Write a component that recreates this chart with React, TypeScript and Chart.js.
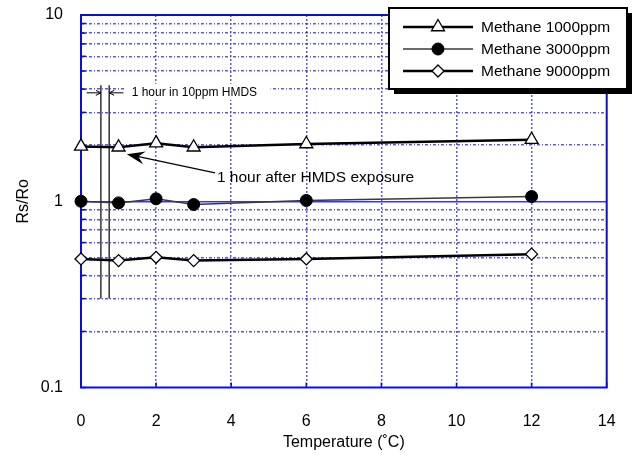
import React, { useEffect, useRef } from 'react';
import { Chart, registerables } from 'chart.js';

Chart.register(...registerables);

// ---- data ----
const TEMPERATURES = [0, 1, 2, 3, 6, 12];
const METHANE_1000 = [1.97, 1.95, 2.05, 1.95, 2.03, 2.14];
const METHANE_3000 = [1.0, 0.98, 1.03, 0.96, 1.01, 1.06];
const METHANE_9000 = [0.49, 0.48, 0.5, 0.48, 0.49, 0.52];
const SERIES_NAMES = ['Methane 1000ppm', 'Methane 3000ppm', 'Methane 9000ppm'];
const Y_TICKS = [0.1, 0.2, 0.3, 0.4, 0.5, 0.6, 0.7, 0.8, 0.9, 1, 2, 3, 4, 5, 6, 7, 8, 9, 10];
const Y_TICK_LABELS = ['0.1', '1', '10'];
const X_TICK_STEP = 2;
const X_RANGE = [0, 14];
const Y_RANGE = [0.1, 10];
const X_TITLE = 'Temperature (˚C)';
const Y_TITLE = 'Rs/Ro';
const NOTE_HMDS = '1 hour in 10ppm HMDS';
const NOTE_AFTER = '1 hour after HMDS exposure';

const FONT = "'Liberation Sans', Arial, Helvetica, sans-serif";
const FRAME = '#0c0cdc';
const GRID = 'rgba(45,45,255,0.8)';
const ONE_LINE = 'rgba(30,30,255,0.9)';

function drawMarker(ctx: CanvasRenderingContext2D, style: string, x: number, y: number, r: number, fill: string) {
  ctx.beginPath();
  if (style === 'triangle') {
    const hw = r * Math.cos(Math.PI / 6);
    ctx.moveTo(x, y - r);
    ctx.lineTo(x + hw, y + r / 2);
    ctx.lineTo(x - hw, y + r / 2);
    ctx.closePath();
  } else if (style === 'rectRot') {
    ctx.moveTo(x, y - r);
    ctx.lineTo(x + r, y);
    ctx.lineTo(x, y + r);
    ctx.lineTo(x - r, y);
    ctx.closePath();
  } else {
    ctx.arc(x, y, r, 0, Math.PI * 2);
  }
  ctx.fillStyle = fill;
  ctx.fill();
  ctx.stroke();
}

const framePlugin = {
  id: 'frameAndNotes',
  beforeDatasetsDraw(chart: any) {
    const { ctx, chartArea: a, scales } = chart;
    const xs = scales.x;
    const ys = scales.y;
    ctx.save();

    // inner tick marks
    ctx.strokeStyle = FRAME;
    ctx.lineWidth = 1.5;
    ctx.setLineDash([]);
    Y_TICKS.forEach((v) => {
      const py = ys.getPixelForValue(v);
      ctx.beginPath();
      ctx.moveTo(a.left, py);
      ctx.lineTo(a.left + 5, py);
      ctx.stroke();
    });
    for (let v = X_RANGE[0]; v <= X_RANGE[1]; v += X_TICK_STEP) {
      const px = xs.getPixelForValue(v);
      ctx.beginPath();
      ctx.moveTo(px, a.bottom);
      ctx.lineTo(px, a.bottom - 5);
      ctx.stroke();
    }

    // annotation 1: interval marker
    const yA = ys.getPixelForValue(3.82);
    ctx.fillStyle = '#fff';
    ctx.fillRect(xs.getPixelForValue(1.2), yA - 9, xs.getPixelForValue(5.05) - xs.getPixelForValue(1.2), 16);

    ctx.strokeStyle = '#000';
    ctx.lineWidth = 1.2;
    [0.53, 0.75].forEach((v) => {
      const px = xs.getPixelForValue(v);
      ctx.beginPath();
      ctx.moveTo(px, ys.getPixelForValue(4.2));
      ctx.lineTo(px, ys.getPixelForValue(0.3));
      ctx.stroke();
    });
    const arrow = (from: number, to: number) => {
      const x1 = xs.getPixelForValue(from);
      const x2 = xs.getPixelForValue(to);
      const d = x2 > x1 ? 1 : -1;
      ctx.lineWidth = 1;
      ctx.beginPath();
      ctx.moveTo(x1, yA);
      ctx.lineTo(x2, yA);
      ctx.moveTo(x2 - d * 5, yA - 2.5);
      ctx.lineTo(x2, yA);
      ctx.lineTo(x2 - d * 5, yA + 2.5);
      ctx.stroke();
    };
    arrow(0.15, 0.53);
    arrow(1.13, 0.75);
    ctx.fillStyle = '#000';
    ctx.font = `12px ${FONT}`;
    ctx.textAlign = 'left';
    ctx.textBaseline = 'middle';
    ctx.fillText(NOTE_HMDS, xs.getPixelForValue(1.35), yA);

    // annotation 2: arrow to data point
    const tx = xs.getPixelForValue(3.57);
    const ty = ys.getPixelForValue(1.42);
    const hx = xs.getPixelForValue(1.22);
    const hy = ys.getPixelForValue(1.79);
    const dx = tx - hx;
    const dy = ty - hy;
    const len = Math.hypot(dx, dy);
    const ux = dx / len;
    const uy = dy / len;
    const L = 18;
    const W = 6.5;
    ctx.lineWidth = 1.3;
    ctx.beginPath();
    ctx.moveTo(tx, ty);
    ctx.lineTo(hx + ux * L * 0.6, hy + uy * L * 0.6);
    ctx.stroke();
    ctx.beginPath();
    ctx.moveTo(hx, hy);
    ctx.lineTo(hx + ux * L - uy * W, hy + uy * L + ux * W);
    ctx.lineTo(hx + ux * L * 0.65, hy + uy * L * 0.65);
    ctx.lineTo(hx + ux * L + uy * W, hy + uy * L - ux * W);
    ctx.closePath();
    ctx.fill();
    ctx.font = `15.5px ${FONT}`;
    ctx.fillText(NOTE_AFTER, xs.getPixelForValue(3.62), ys.getPixelForValue(1.34));

    // plot frame
    ctx.strokeStyle = FRAME;
    ctx.lineWidth = 2;
    ctx.strokeRect(a.left, a.top, a.right - a.left, a.bottom - a.top);
    ctx.restore();
  },
};

const legendPlugin = {
  id: 'boxLegend',
  afterDraw(chart: any) {
    const { ctx } = chart;
    const bx = 389;
    const by = 8;
    const bw = 238;
    const bh = 81;
    ctx.save();
    ctx.setLineDash([]);
    ctx.fillStyle = '#000';
    ctx.fillRect(bx + 5, by + 5, bw, bh);
    ctx.fillStyle = '#fff';
    ctx.fillRect(bx, by, bw, bh);
    ctx.lineWidth = 2;
    ctx.strokeStyle = '#000';
    ctx.strokeRect(bx, by, bw, bh);
    chart.data.datasets.forEach((ds: any, i: number) => {
      const yy = by + 19 + i * 22;
      ctx.strokeStyle = ds.borderColor;
      ctx.lineWidth = ds.borderWidth;
      ctx.beginPath();
      ctx.moveTo(bx + 14, yy);
      ctx.lineTo(bx + 84, yy);
      ctx.stroke();
      ctx.strokeStyle = ds.pointBorderColor;
      ctx.lineWidth = ds.pointBorderWidth;
      drawMarker(ctx, ds.pointStyle, bx + 49, yy, ds.pointRadius, ds.pointBackgroundColor);
      ctx.fillStyle = '#000';
      ctx.font = `15.5px ${FONT}`;
      ctx.textAlign = 'left';
      ctx.textBaseline = 'middle';
      ctx.fillText(ds.label, bx + 92, yy + 1);
    });
    ctx.restore();
  },
};

export default function App() {
  const ref = useRef<HTMLCanvasElement | null>(null);

  useEffect(() => {
    if (!ref.current) return;
    const toPoints = (vals: number[]) => TEMPERATURES.map((t, i) => ({ x: t, y: vals[i] }));
    const chart = new Chart(ref.current, {
      type: 'line',
      data: {
        datasets: [
          {
            label: SERIES_NAMES[0],
            data: toPoints(METHANE_1000),
            borderColor: '#000',
            borderWidth: 2.5,
            pointStyle: 'triangle',
            pointRadius: 7.5,
            pointBackgroundColor: '#fff',
            pointBorderColor: '#000',
            pointBorderWidth: 1.3,
            clip: false,
          },
          {
            label: SERIES_NAMES[1],
            data: toPoints(METHANE_3000),
            borderColor: '#3a3a3a',
            borderWidth: 1.5,
            pointStyle: 'circle',
            pointRadius: 6,
            pointBackgroundColor: '#000',
            pointBorderColor: '#000',
            pointBorderWidth: 1,
            clip: false,
          },
          {
            label: SERIES_NAMES[2],
            data: toPoints(METHANE_9000),
            borderColor: '#000',
            borderWidth: 2.5,
            pointStyle: 'rectRot',
            pointRadius: 6,
            pointBackgroundColor: '#fff',
            pointBorderColor: '#000',
            pointBorderWidth: 1.3,
            clip: false,
          },
        ] as any,
      },
      options: {
        responsive: false,
        animation: false,
        events: [],
        font: { family: FONT },
        layout: { padding: { left: 0, right: 26.3, top: 15, bottom: 0 } },
        plugins: { legend: { display: false }, tooltip: { enabled: false } },
        scales: {
          x: {
            type: 'linear',
            min: X_RANGE[0],
            max: X_RANGE[1],
            ticks: { stepSize: X_TICK_STEP, color: '#000', font: { family: FONT, size: 16 }, padding: 24 },
            grid: {
              drawTicks: false,
              lineWidth: 1.5,
              color: (c: any) => (c.tick && (c.tick.value === X_RANGE[0] || c.tick.value === X_RANGE[1]) ? 'rgba(0,0,0,0)' : GRID),
            },
            border: { display: false, dash: [2, 2] },
            title: {
              display: true,
              text: X_TITLE,
              color: '#000',
              font: { family: FONT, size: 16 },
              padding: { top: 0, bottom: 3 },
            },
            afterFit: (s: any) => {
              s.height = 67.5;
              s.paddingLeft = 0;
              s.paddingRight = 0;
            },
          },
          y: {
            type: 'logarithmic',
            min: Y_RANGE[0],
            max: Y_RANGE[1],
            afterBuildTicks: (s: any) => {
              s.ticks = Y_TICKS.map((v) => ({ value: v }));
            },
            ticks: {
              autoSkip: false,
              color: '#000',
              font: { family: FONT, size: 16 },
              padding: 18,
              callback: (v: any) => (Y_TICK_LABELS.includes(String(v)) ? String(v) : ''),
            },
            grid: {
              drawTicks: false,
              lineWidth: 1.5,
              color: (c: any) =>
                c.tick && (c.tick.value === Y_RANGE[0] || c.tick.value === Y_RANGE[1])
                  ? 'rgba(0,0,0,0)'
                  : c.tick && c.tick.value === 1
                  ? ONE_LINE
                  : GRID,
            },
            border: {
              display: false,
              dash: (c: any) => (c.tick && c.tick.value === 1 ? [] : [3, 2, 1, 2]),
            },
            title: {
              display: true,
              text: Y_TITLE,
              color: '#000',
              font: { family: FONT, size: 16 },
              padding: { top: 14, bottom: 0 },
            },
            afterFit: (s: any) => {
              s.width = 81;
              s.paddingTop = 0;
              s.paddingBottom = 0;
            },
          },
        },
      } as any,
      plugins: [framePlugin, legendPlugin],
    });
    return () => chart.destroy();
  }, []);

  return (
    <div style={{ position: 'absolute', left: 0, top: 0, width: 633, height: 455, background: '#fff' }}>
      <canvas ref={ref} width={633} height={455} style={{ width: 633, height: 455, display: 'block' }} />
    </div>
  );
}
